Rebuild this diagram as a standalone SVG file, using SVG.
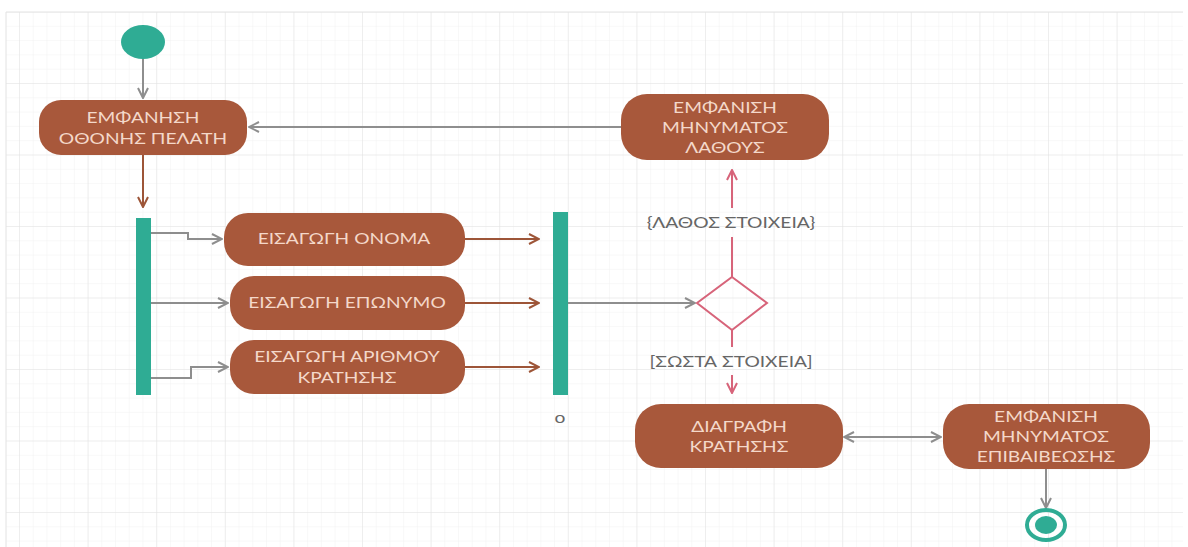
<svg xmlns="http://www.w3.org/2000/svg" width="1188" height="547" viewBox="0 0 1188 547">
  <defs>
    <pattern id="minor" x="19" y="83" width="13.72" height="14.3" patternUnits="userSpaceOnUse">
      <path d="M0,0 V14.3 M0,0 H13.72" stroke="#f1f1f1" stroke-width="1" fill="none"/>
    </pattern>
    <pattern id="major" x="19" y="83" width="68.6" height="71.5" patternUnits="userSpaceOnUse">
      <path d="M0,0 V71.5 M0,0 H68.6" stroke="#e3e3e3" stroke-width="1" fill="none"/>
    </pattern>
    <marker id="arrGray" viewBox="0 0 12 12" refX="11" refY="6" markerWidth="12" markerHeight="12" markerUnits="userSpaceOnUse" orient="auto-start-reverse">
      <path d="M1,1 L11,6 L1,11" fill="none" stroke="#8e8e8e" stroke-width="2"/>
    </marker>
    <marker id="arrBrown" viewBox="0 0 12 12" refX="11" refY="6" markerWidth="12" markerHeight="12" markerUnits="userSpaceOnUse" orient="auto">
      <path d="M1,1 L11,6 L1,11" fill="none" stroke="#9d5538" stroke-width="2"/>
    </marker>
    <marker id="arrPink" viewBox="0 0 12 12" refX="11" refY="6" markerWidth="12" markerHeight="12" markerUnits="userSpaceOnUse" orient="auto">
      <path d="M1,1 L11,6 L1,11" fill="none" stroke="#d7647a" stroke-width="2"/>
    </marker>
  </defs>
  <style>
    .act { fill: #a8583b; }
    .lbl, .guard { font-family: Lato, "Open Sans", "Noto Sans", sans-serif; font-size: 16px; text-anchor: middle;
      transform: scaleX(1.2); transform-box: fill-box; transform-origin: center; }
    .lbl { fill: #f4d8ca; }
    .guard { fill: #666666; }
    .bar { fill: #2fac94; }
    .gray { stroke: #8e8e8e; stroke-width: 2; fill: none; }
    .brown { stroke: #9d5538; stroke-width: 2; fill: none; }
    .pink { stroke: #d7647a; stroke-width: 2; fill: none; }
  </style>

  <!-- canvas grid -->
  <rect x="0" y="0" width="1188" height="547" fill="#ffffff"/>
  <rect x="6" y="12" width="1177" height="535" fill="url(#minor)"/>
  <rect x="6" y="12" width="1177" height="535" fill="url(#major)"/>
  <path d="M6,12 H1183 M6,12 V547" stroke="#e3e3e3" stroke-width="1"/>

  <!-- connectors -->
  <g id="connectors">
    <path class="gray" d="M143,59 V98" marker-end="url(#arrGray)"/>
    <path class="brown" d="M143,155 V207" marker-end="url(#arrBrown)"/>
    <path class="gray" d="M151,233 H188 V239 H222" marker-end="url(#arrGray)"/>
    <path class="gray" d="M151,303 H228" marker-end="url(#arrGray)"/>
    <path class="gray" d="M151,378 H191 V367 H228" marker-end="url(#arrGray)"/>
    <path class="brown" d="M465,239 H539" marker-end="url(#arrBrown)"/>
    <path class="brown" d="M465,303 H539" marker-end="url(#arrBrown)"/>
    <path class="brown" d="M465,367 H539" marker-end="url(#arrBrown)"/>
    <path class="gray" d="M568,303 H695" marker-end="url(#arrGray)"/>
    <path class="pink" d="M732,277 V237"/>
    <path class="pink" d="M732,208 V170" marker-end="url(#arrPink)"/>
    <path class="gray" d="M621,127 H249" marker-end="url(#arrGray)"/>
    <path class="pink" d="M732,330 V347"/>
    <path class="pink" d="M732,375 V393" marker-end="url(#arrPink)"/>
    <path class="gray" d="M844,437 H941" marker-start="url(#arrGray)" marker-end="url(#arrGray)"/>
    <path class="gray" d="M1046,469 V508" marker-end="url(#arrGray)"/>
    <text class="guard" x="731" y="228.5">{ΛΑΘΟΣ ΣΤΟΙΧΕΙΑ}</text>
    <text class="guard" x="731" y="367.5">[ΣΩΣΤΑ ΣΤΟΙΧΕΙΑ]</text>
  </g>

  <!-- start -->
  <g id="start">
    <ellipse cx="143" cy="42" rx="22" ry="17" class="bar"/>
  </g>

  <g id="show-client-screen">
    <rect class="act" x="39" y="100" width="208" height="55" rx="22"/>
    <text class="lbl" x="143" y="123.5">ΕΜΦΑΝΗΣΗ</text>
    <text class="lbl" x="143" y="144.5">ΟΘΟΝΗΣ ΠΕΛΑΤΗ</text>
  </g>

  <g id="fork">
    <rect class="bar" x="136" y="218" width="15" height="177"/>
  </g>

  <g id="enter-name">
    <rect class="act" x="224" y="213" width="241" height="53" rx="24"/>
    <text class="lbl" x="344" y="244.5">ΕΙΣΑΓΩΓΗ ΟΝΟΜΑ</text>
  </g>

  <g id="enter-surname">
    <rect class="act" x="230" y="276" width="235" height="54" rx="24"/>
    <text class="lbl" x="347" y="308.5">ΕΙΣΑΓΩΓΗ ΕΠΩΝΥΜΟ</text>
  </g>

  <g id="enter-booking-number">
    <rect class="act" x="230" y="340" width="235" height="54" rx="24"/>
    <text class="lbl" x="347" y="362.5">ΕΙΣΑΓΩΓΗ ΑΡΙΘΜΟΥ</text>
    <text class="lbl" x="347" y="383.5">ΚΡΑΤΗΣΗΣ</text>
  </g>

  <g id="join">
    <rect class="bar" x="553" y="212" width="15" height="183"/>
    <text class="guard" x="560" y="423">o</text>
  </g>

  <g id="decision">
    <polygon class="pink" points="732,277 767,303 732,330 697,303"/>
  </g>

  <g id="show-error">
    <rect class="act" x="621" y="94" width="208" height="66" rx="26"/>
    <text class="lbl" x="725" y="113.5">ΕΜΦΑΝΙΣΗ</text>
    <text class="lbl" x="725" y="133.5">ΜΗΝΥΜΑΤΟΣ</text>
    <text class="lbl" x="725" y="153.5">ΛΑΘΟΥΣ</text>
  </g>

  <g id="delete-booking">
    <rect class="act" x="635" y="404" width="208" height="64" rx="26"/>
    <text class="lbl" x="739" y="432.5">ΔΙΑΓΡΑΦΗ</text>
    <text class="lbl" x="739" y="452.5">ΚΡΑΤΗΣΗΣ</text>
  </g>

  <g id="show-confirmation">
    <rect class="act" x="943" y="404" width="207" height="65" rx="26"/>
    <text class="lbl" x="1046" y="422.5">ΕΜΦΑΝΙΣΗ</text>
    <text class="lbl" x="1046" y="442.5">ΜΗΝΥΜΑΤΟΣ</text>
    <text class="lbl" x="1046" y="462.5">ΕΠΙΒΑΙΒΕΩΣΗΣ</text>
  </g>

  <g id="end">
    <ellipse cx="1046" cy="525" rx="19" ry="15" fill="none" stroke="#2fac94" stroke-width="4"/>
    <ellipse cx="1046" cy="525" rx="11" ry="9" class="bar"/>
  </g>
</svg>
